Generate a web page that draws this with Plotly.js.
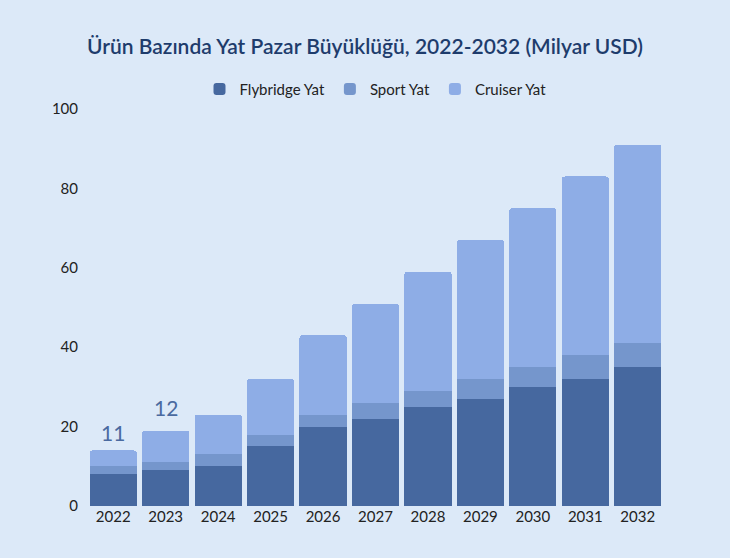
<!DOCTYPE html>
<html>
<head>
<meta charset="utf-8">
<script src="https://cdn.plot.ly/plotly-3.0.1.min.js"></script>
<style>
  html, body { margin: 0; padding: 0; background: #dce9f8; }
  #chart { width: 730px; height: 558px; }
</style>
</head>
<body>
<div id="chart"></div>
<script>
  // Values (Milyar USD)
  const years = ["2022", "2023", "2024", "2025", "2026", "2027", "2028", "2029", "2030", "2031", "2032"];
  const flybridge = [8, 9, 10, 15, 20, 22, 25, 27, 30, 32, 35];
  const sport = [2, 2, 3, 3, 3, 4, 4, 5, 5, 6, 6];
  const cruiser = [4, 8, 10, 14, 20, 25, 30, 35, 40, 45, 50];

  // Labels floating above the first two bars
  const noteYears = ["2022", "2023"];
  const noteText = ["11", "12"];
  const noteY = [18.5, 24.8];

  const FONT = "Lato, 'Open Sans', sans-serif";
  const COLOURS = { fly: "#46689f", sport: "#7596cc", cruiser: "#8eade6" };

  const bar = (name, y, colour) => ({
    type: "bar",
    name,
    x: years,
    y,
    marker: { color: colour, line: { width: 0 } },
    hoverinfo: "skip",
  });

  const data = [
    bar("Flybridge Yat", flybridge, COLOURS.fly),
    bar("Sport Yat", sport, COLOURS.sport),
    bar("Cruiser Yat", cruiser, COLOURS.cruiser),
  ];

  // category axes take the serial index for annotations, not the label
  const annotations = noteYears.map((yr, i) => ({
    x: years.indexOf(yr),
    y: noteY[i],
    text: noteText[i],
    showarrow: false,
    font: { family: FONT, size: 21, color: "#4a6aa0" },
  }));

  const layout = {
    width: 730,
    height: 558,
    barmode: "stack",
    bargap: 0.1,
    barcornerradius: 3,
    paper_bgcolor: "#dce9f8",
    plot_bgcolor: "#dce9f8",
    margin: { l: 87, r: 66, t: 109, b: 52 },
    font: { family: FONT, size: 15, color: "#222" },
    title: {
      text: "Ürün Bazında Yat Pazar Büyüklüğü, 2022-2032 (Milyar USD)",
      x: 0.5,
      xanchor: "center",
      y: 0.917,
      yanchor: "middle",
      font: { family: FONT, size: 21, color: "#1e3c6c", weight: 600 },
    },
    legend: {
      orientation: "h",
      x: 0.5,
      xanchor: "center",
      y: 1.05,
      yanchor: "middle",
      font: { family: FONT, size: 15, color: "#222" },
      traceorder: "normal",
    },
    xaxis: {
      type: "category",
      showgrid: false,
      zeroline: false,
      showline: false,
      ticks: "",
      tickfont: { family: FONT, size: 15, color: "#222" },
      fixedrange: true,
    },
    yaxis: {
      range: [0, 100],
      dtick: 20,
      showgrid: false,
      zeroline: false,
      showline: false,
      ticks: "",
      ticklabelstandoff: 8,
      tickfont: { family: FONT, size: 15, color: "#222" },
      fixedrange: true,
    },
    annotations,
    showlegend: true,
  };

  Plotly.newPlot("chart", data, layout, { displayModeBar: false, staticPlot: true });
</script>
</body>
</html>
